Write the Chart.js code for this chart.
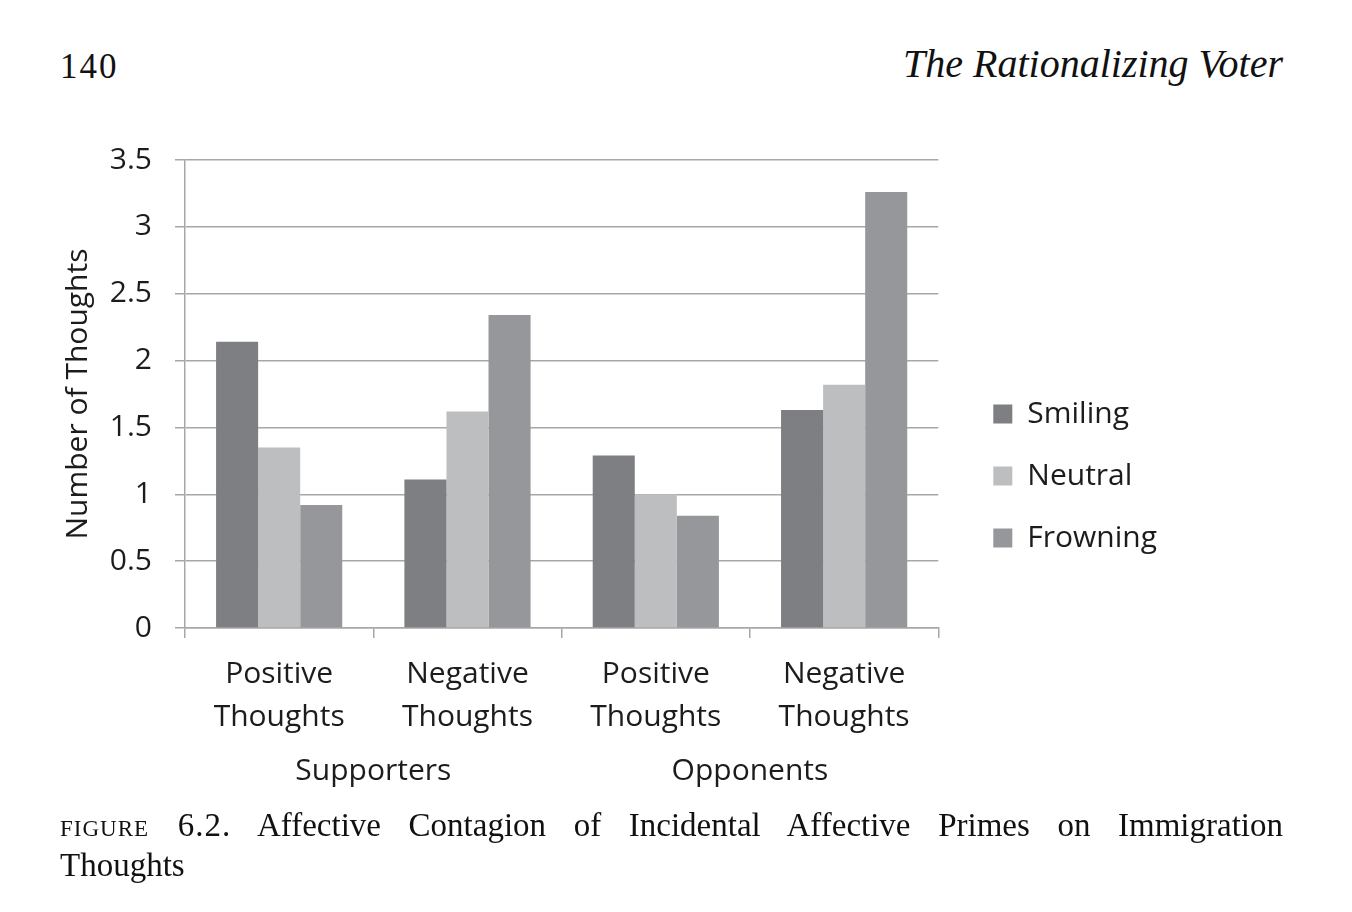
<!DOCTYPE html>
<html>
<head>
<meta charset="utf-8">
<script src="https://cdn.jsdelivr.net/npm/chart.js@4"></script>
<style>
  html, body { margin: 0; padding: 0; background: #fff; }
  body { width: 1352px; height: 912px; position: relative; overflow: hidden; }
  #c { position: absolute; left: 0; top: 0; }
  .hdr { position: absolute; font-family: "Liberation Serif", "DejaVu Serif", serif; color: #111; }
  #pg { left: 60px; top: 47px; font-size: 35px; letter-spacing: 2px; }
  #ttl { right: 69px; top: 40px; font-size: 40px; font-style: italic; }
  .cap { position: absolute; left: 60px; width: 1223px; font-family: "Liberation Serif", "DejaVu Serif", serif;
         font-size: 33px; line-height: 40px; color: #111; white-space: nowrap; }
  #cap1 { top: 805px; text-align: justify; text-align-last: justify; white-space: normal; }
  #cap2 { top: 845px; }
  .sc { font-variant: small-caps; text-transform: lowercase; letter-spacing: 1px; }
</style>
</head>
<body>
<div id="pg" class="hdr">140</div>
<div id="ttl" class="hdr">The Rationalizing Voter</div>
<canvas id="c" width="1352" height="912"></canvas>
<div id="cap1" class="cap"><span class="sc">FIGURE 6.2.</span> Affective Contagion of Incidental Affective Primes on Immigration</div>
<div id="cap2" class="cap">Thoughts</div>
<script>
const categories = [["Positive", "Thoughts"], ["Negative", "Thoughts"], ["Positive", "Thoughts"], ["Negative", "Thoughts"]];
const groups = ["Supporters", "Opponents"];
const seriesNames = ["Smiling", "Neutral", "Frowning"];
const smiling = [2.14, 1.11, 1.29, 1.63];
const neutral = [1.35, 1.62, 1.00, 1.82];
const frowning = [0.92, 2.34, 0.84, 3.26];
const yMin = 0, yMax = 3.5, yStep = 0.5;
const yTitle = "Number of Thoughts";

const colors = ["#7e7f82", "#bdbec0", "#96979b"];
const gridColor = "#a6a7a9";
const font = "'Open Sans', 'DejaVu Sans', sans-serif";
const textColor = "#1c1c1c";

new Chart(document.getElementById("c"), {
  type: "bar",
  data: {
    labels: categories,
    datasets: [smiling, neutral, frowning].map((d, i) => ({
      label: seriesNames[i],
      data: d,
      backgroundColor: colors[i],
      borderWidth: 0,
      categoryPercentage: 0.67,
      barPercentage: 1.0,
      xAxisID: "x",
      yAxisID: "y"
    }))
  },
  options: {
    responsive: false,
    animation: false,
    devicePixelRatio: 1,
    layout: { padding: { left: 56, top: 160, right: 185, bottom: 120 } },
    plugins: {
      tooltip: { enabled: false },
      legend: {
        position: "right",
        align: "center",
        maxWidth: 400,
        labels: {
          boxWidth: 19, boxHeight: 19, padding: 32,
          color: textColor,
          font: { family: font, size: 30 }
        }
      }
    },
    scales: {
      x: {
        type: "category",
        position: "bottom",
        grid: { display: true, drawOnChartArea: false, drawTicks: true, tickLength: 10, color: gridColor, lineWidth: 1.5, offset: true },
        border: { display: true, color: gridColor, width: 1.5 },
        ticks: { color: textColor, font: { family: font, size: 30, lineHeight: 1.43 }, padding: 15, maxRotation: 0, autoSkip: false },
        afterFit: s => { s.height = 112; }
      },
      x2: {
        type: "category",
        position: "bottom",
        labels: groups,
        offset: true,
        weight: 1,
        grid: { display: false, drawTicks: false },
        border: { display: false },
        ticks: { color: textColor, font: { family: font, size: 30 }, padding: 13, maxRotation: 0 },
        afterFit: s => { s.height = 52; }
      },
      y: {
        type: "linear",
        min: yMin, max: yMax,
        ticks: { stepSize: yStep, color: textColor, font: { family: font, size: 30 }, padding: 23,
                 callback: v => String(Number(v)) },
        grid: { color: gridColor, lineWidth: 1.5, drawTicks: true, tickLength: 10 },
        border: { display: true, color: gridColor, width: 1.5 },
        title: { display: true, text: yTitle, color: textColor, font: { family: font, size: 30 } },
        afterFit: s => { s.width = 129; }
      },
      ySpacer: {
        type: "linear",
        position: "right",
        display: true,
        ticks: { display: false },
        grid: { display: false, drawTicks: false },
        border: { display: false },
        afterFit: s => { s.width = 23; }
      }
    }
  }
});
</script>
</body>
</html>
